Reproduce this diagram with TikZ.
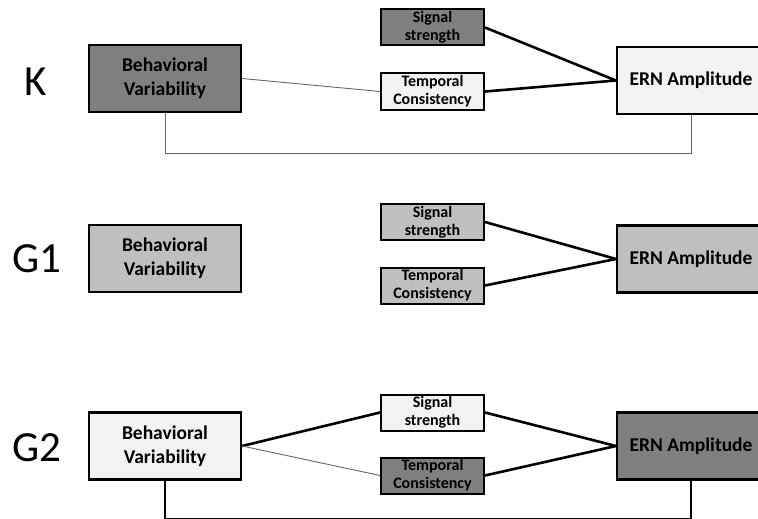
\documentclass[tikz,border=0pt]{standalone}
\usepackage{fontspec}
\setmainfont{Carlito}
\definecolor{dk}{HTML}{7F7F7F}
\definecolor{md}{HTML}{BFBFBF}
\definecolor{lt}{HTML}{F2F2F2}
\tikzset{
  big/.style={draw=black, line width=2.2pt, minimum width=152pt, minimum height=67pt, align=center, font=\fontsize{19.5}{24}\selectfont\bfseries, inner sep=0pt},
  ern/.style={big, minimum width=148pt},
  small/.style={draw=black, line width=2pt, minimum width=103pt, minimum height=36pt, align=center, font=\fontsize{16}{18}\selectfont\bfseries, inner sep=0pt},
  lab/.style={font=\fontsize{43}{46}\selectfont},
  strong/.style={line width=2.6pt, black},
  weak/.style={line width=0.9pt, black!60},
}
\begin{document}
\begin{tikzpicture}[x=1pt,y=-1pt]
\clip (0,0) rectangle (758,519);
\fill[white] (0,0) rectangle (758,519);
% K
\node[lab] (klab) at (36,82) {K};
\node[big, fill=dk] (kbv) at (165,78.5) {Behavioral\\Variability};
\node[small, fill=dk] (kss) at (432.5,27.5) {Signal\\strength};
\node[small, fill=lt] (ktc) at (432.5,91.5) {Temporal\\Consistency};
\node[ern, fill=lt] (kern) at (691,80.5) {ERN Amplitude};
\draw[weak] (kbv.east) -- (ktc.west);
\draw[strong] (kss.east) -- (kern.west);
\draw[strong] (ktc.east) -- (kern.west);
\draw[weak] (kbv.south) -- ++(0,40) -| (kern.south);
% G1
\node[lab] (g1lab) at (37,259) {G1};
\node[big, fill=md] (gabv) at (165,258.5) {Behavioral\\Variability};
\node[small, fill=md] (gass) at (432.5,222) {Signal\\strength};
\node[small, fill=md] (gatc) at (432.5,285.5) {Temporal\\Consistency};
\node[ern, fill=md] (gaern) at (691,259) {ERN Amplitude};
\draw[strong] (gass.east) -- (gaern.west);
\draw[strong] (gatc.east) -- (gaern.west);
% G2
\node[lab] (g2lab) at (37,448) {G2};
\node[big, fill=lt] (gbbv) at (165,446) {Behavioral\\Variability};
\node[small, fill=lt] (gbss) at (432.5,412.5) {Signal\\strength};
\node[small, fill=dk] (gbtc) at (432.5,475.5) {Temporal\\Consistency};
\node[ern, fill=dk] (gbern) at (691,446) {ERN Amplitude};
\draw[strong] (gbbv.east) -- (gbss.west);
\draw[weak] (gbbv.east) -- (gbtc.west);
\draw[strong] (gbss.east) -- (gbern.west);
\draw[strong] (gbtc.east) -- (gbern.west);
\draw[strong, line width=2.2pt] (gbbv.south) -- ++(0,38) -| (gbern.south);
\end{tikzpicture}
\end{document}
